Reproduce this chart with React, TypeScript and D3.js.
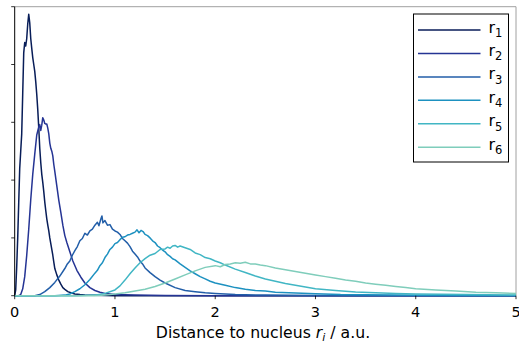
import React from "react";
import * as d3 from "d3";

const W = 519, H = 343;
const M = { left: 14.7, right: 516, top: 6.7, bottom: 295.7 };

const seriesNames = ["1", "2", "3", "4", "5", "6"];
const colors = ["#081d58", "#253494", "#225ea8", "#1d91c0", "#41b6c4", "#7fcdbb"];
const xTicks = [0, 1, 2, 3, 4, 5];
const yTicks = [0, 1, 2, 3, 4, 5];

const r1X = [0, 0.01, 0.02, 0.03, 0.04, 0.05, 0.06, 0.07, 0.08, 0.09, 0.10, 0.11, 0.12, 0.13, 0.14, 0.15, 0.16, 0.17, 0.18, 0.19, 0.20, 0.21, 0.22, 0.23, 0.24, 0.25, 0.26, 0.27, 0.28, 0.29, 0.30, 0.31, 0.32, 0.33, 0.34, 0.35, 0.36, 0.37, 0.38, 0.39, 0.40, 0.42, 0.44, 0.46, 0.48, 0.50, 0.53, 0.56, 0.60, 0.65, 0.70, 0.80, 0.90, 1.0, 5.0];
const r1Y = [0, 0.1, 0.5, 1.0, 1.6, 2.2, 2.5, 2.8, 3.5, 4.2, 4.38, 4.32, 4.45, 4.7, 4.87, 4.72, 4.45, 4.28, 4.12, 4.0, 3.88, 3.7, 3.48, 3.22, 2.9, 2.55, 2.3, 2.1, 1.96, 1.8, 1.62, 1.47, 1.33, 1.22, 1.12, 1.0, 0.9, 0.8, 0.7, 0.58, 0.47, 0.36, 0.27, 0.2, 0.14, 0.11, 0.07, 0.05, 0.03, 0.02, 0.012, 0.006, 0.003, 0.001, 0];

const r2X = [0, 0.04, 0.06, 0.08, 0.10, 0.12, 0.14, 0.16, 0.18, 0.20, 0.22, 0.24, 0.25, 0.26, 0.27, 0.28, 0.29, 0.30, 0.31, 0.32, 0.33, 0.34, 0.35, 0.36, 0.37, 0.38, 0.39, 0.40, 0.42, 0.44, 0.46, 0.48, 0.50, 0.52, 0.55, 0.58, 0.62, 0.66, 0.70, 0.75, 0.80, 0.85, 0.90, 1.0, 1.2, 1.5, 2.0, 5.0];
const r2Y = [0, 0, 0.02, 0.12, 0.33, 0.7, 1.15, 1.66, 2.1, 2.45, 2.78, 2.92, 2.96, 2.86, 2.95, 3.08, 3.04, 2.98, 2.97, 2.97, 2.9, 2.8, 2.64, 2.55, 2.5, 2.42, 2.27, 2.15, 1.9, 1.65, 1.44, 1.22, 1.04, 0.92, 0.76, 0.6, 0.44, 0.32, 0.22, 0.14, 0.09, 0.06, 0.04, 0.02, 0.01, 0.005, 0, 0];

const r3X = [0, 0.2, 0.25, 0.3, 0.35, 0.4, 0.45, 0.5, 0.525, 0.55, 0.575, 0.6, 0.625, 0.65, 0.675, 0.7, 0.725, 0.75, 0.775, 0.8, 0.825, 0.84, 0.86, 0.87, 0.88, 0.9, 0.925, 0.95, 0.975, 1.0, 1.025, 1.05, 1.075, 1.1, 1.125, 1.15, 1.175, 1.2, 1.225, 1.25, 1.275, 1.3, 1.35, 1.4, 1.45, 1.5, 1.6, 1.7, 1.8, 1.9, 2.0, 2.2, 2.5, 3.0, 5.0];
const r3Y = [0, 0, 0.02, 0.07, 0.14, 0.23, 0.34, 0.47, 0.55, 0.6, 0.7, 0.78, 0.85, 0.95, 0.99, 1.08, 1.05, 1.12, 1.15, 1.22, 1.27, 1.21, 1.33, 1.38, 1.26, 1.3, 1.22, 1.23, 1.15, 1.12, 1.1, 1.06, 0.99, 0.95, 0.91, 0.85, 0.77, 0.72, 0.67, 0.6, 0.55, 0.48, 0.4, 0.33, 0.27, 0.22, 0.14, 0.09, 0.07, 0.05, 0.04, 0.02, 0.01, 0.003, 0];

const r4X = [0, 0.4, 0.5, 0.55, 0.6, 0.65, 0.7, 0.75, 0.8, 0.825, 0.85, 0.875, 0.9, 0.925, 0.95, 0.975, 1.0, 1.025, 1.05, 1.075, 1.1, 1.125, 1.15, 1.175, 1.2, 1.22, 1.24, 1.26, 1.28, 1.3, 1.325, 1.35, 1.375, 1.4, 1.425, 1.45, 1.475, 1.5, 1.525, 1.55, 1.575, 1.6, 1.65, 1.7, 1.75, 1.8, 1.85, 1.9, 1.95, 2.0, 2.1, 2.2, 2.3, 2.4, 2.5, 2.6, 2.8, 3.0, 3.25, 3.5, 4.0, 4.5, 5.0];
const r4Y = [0, 0, 0.01, 0.03, 0.07, 0.12, 0.19, 0.28, 0.39, 0.44, 0.52, 0.57, 0.66, 0.72, 0.8, 0.84, 0.9, 0.92, 0.97, 1.01, 1.02, 1.05, 1.06, 1.08, 1.1, 1.14, 1.09, 1.13, 1.11, 1.06, 1.04, 1.0, 0.95, 0.92, 0.86, 0.83, 0.79, 0.76, 0.71, 0.68, 0.64, 0.62, 0.55, 0.49, 0.43, 0.38, 0.33, 0.29, 0.25, 0.22, 0.18, 0.14, 0.11, 0.09, 0.08, 0.06, 0.045, 0.035, 0.02, 0.015, 0.008, 0.004, 0.002];

const r5X = [0, 0.6, 0.8, 0.9, 1.0, 1.05, 1.1, 1.15, 1.2, 1.25, 1.3, 1.35, 1.4, 1.45, 1.5, 1.525, 1.55, 1.575, 1.6, 1.625, 1.65, 1.7, 1.75, 1.8, 1.85, 1.9, 1.95, 2.0, 2.05, 2.1, 2.2, 2.3, 2.4, 2.5, 2.6, 2.7, 2.8, 2.9, 3.0, 3.2, 3.4, 3.6, 3.8, 4.0, 4.5, 5.0];
const r5Y = [0, 0, 0.01, 0.04, 0.1, 0.17, 0.27, 0.38, 0.48, 0.57, 0.64, 0.7, 0.73, 0.8, 0.81, 0.84, 0.82, 0.86, 0.87, 0.84, 0.86, 0.83, 0.8, 0.74, 0.71, 0.66, 0.64, 0.6, 0.57, 0.53, 0.46, 0.4, 0.34, 0.29, 0.25, 0.21, 0.18, 0.15, 0.12, 0.09, 0.065, 0.05, 0.04, 0.03, 0.02, 0.01];

const r6X = [0, 0.8, 0.9, 1.0, 1.1, 1.2, 1.3, 1.4, 1.5, 1.6, 1.7, 1.8, 1.9, 2.0, 2.05, 2.1, 2.15, 2.2, 2.25, 2.3, 2.35, 2.4, 2.45, 2.5, 2.6, 2.7, 2.8, 2.9, 3.0, 3.1, 3.2, 3.3, 3.4, 3.5, 3.6, 3.7, 3.8, 3.9, 4.0, 4.2, 4.4, 4.6, 4.8, 5.0];
const r6Y = [0, 0, 0.01, 0.03, 0.05, 0.08, 0.11, 0.16, 0.22, 0.29, 0.36, 0.43, 0.49, 0.52, 0.5, 0.54, 0.55, 0.57, 0.56, 0.58, 0.55, 0.55, 0.53, 0.52, 0.48, 0.45, 0.42, 0.39, 0.36, 0.33, 0.3, 0.27, 0.25, 0.22, 0.2, 0.18, 0.16, 0.14, 0.12, 0.1, 0.08, 0.06, 0.05, 0.04];

const seriesX = [r1X, r2X, r3X, r4X, r5X, r6X];
const seriesY = [r1Y, r2Y, r3Y, r4Y, r5Y, r6Y];

const FONT = "'DejaVu Sans', sans-serif";

export default function App() {
  const x = d3.scaleLinear().domain([0, 5]).range([M.left, M.right]);
  const y = d3.scaleLinear().domain([0, 5]).range([M.bottom, M.top]);
  const line = d3
    .line<[number, number]>()
    .x((d) => x(d[0]))
    .y((d) => y(d[1]));

  const legX = 413.5, legY = 14, legW = 95, legH = 148;
  const rowStep = 23.45;

  return (
    <svg width={W} height={H} style={{ position: "absolute", left: 0, top: 0, background: "#fff" }} fontFamily={FONT}>
      <rect x={0} y={0} width={W} height={H} fill="#fff" />
      <line x1={M.left} x2={M.right} y1={M.top} y2={M.top} stroke="#a0a0a0" strokeWidth={1} />
      <line x1={M.right} x2={M.right} y1={M.top} y2={M.bottom} stroke="#a0a0a0" strokeWidth={1} />
      {seriesX.map((xs, i) => (
        <path
          key={i}
          d={line(xs.map((v, j) => [v, seriesY[i][j]]) as [number, number][]) || ""}
          fill="none"
          stroke={colors[i]}
          strokeWidth={1.5}
          strokeLinejoin="round"
        />
      ))}
      <line x1={M.left} x2={M.left} y1={M.top} y2={M.bottom} stroke="#000" strokeWidth={1} />
      {yTicks.map((t) => (
        <line key={"y" + t} x1={M.left - 3.5} x2={M.left} y1={y(t)} y2={y(t)} stroke="#000" strokeWidth={0.8} />
      ))}
      {xTicks.map((t) => (
        <g key={"x" + t}>
          <line x1={x(t)} x2={x(t)} y1={M.bottom} y2={M.bottom + 3.5} stroke="#000" strokeWidth={0.8} />
          <text x={x(t)} y={316.5} textAnchor="middle" fontSize={14.5} fill="#000">
            {t}
          </text>
        </g>
      ))}
      <text x={263} y={337.5} textAnchor="middle" fontSize={15.7} fill="#000">
        Distance to nucleus <tspan fontStyle="italic">r</tspan>
        <tspan fontStyle="italic" fontSize={11} dy={3.5}>i</tspan>
        <tspan dy={-3.5}> / a.u.</tspan>
      </text>
      <rect x={legX} y={legY} width={legW} height={legH} fill="#fff" stroke="#000" strokeWidth={1} />
      {seriesNames.map((n, i) => {
        const cy = 30 + i * rowStep;
        return (
          <g key={"l" + n}>
            <line x1={418} x2={480.5} y1={cy} y2={cy} stroke={colors[i]} strokeWidth={1.5} />
            <text x={488.5} y={cy + 2.5} fontSize={16} fill="#000">
              r<tspan fontSize={11.5} dy={4.5}>{n}</tspan>
            </text>
          </g>
        );
      })}
    </svg>
  );
}
